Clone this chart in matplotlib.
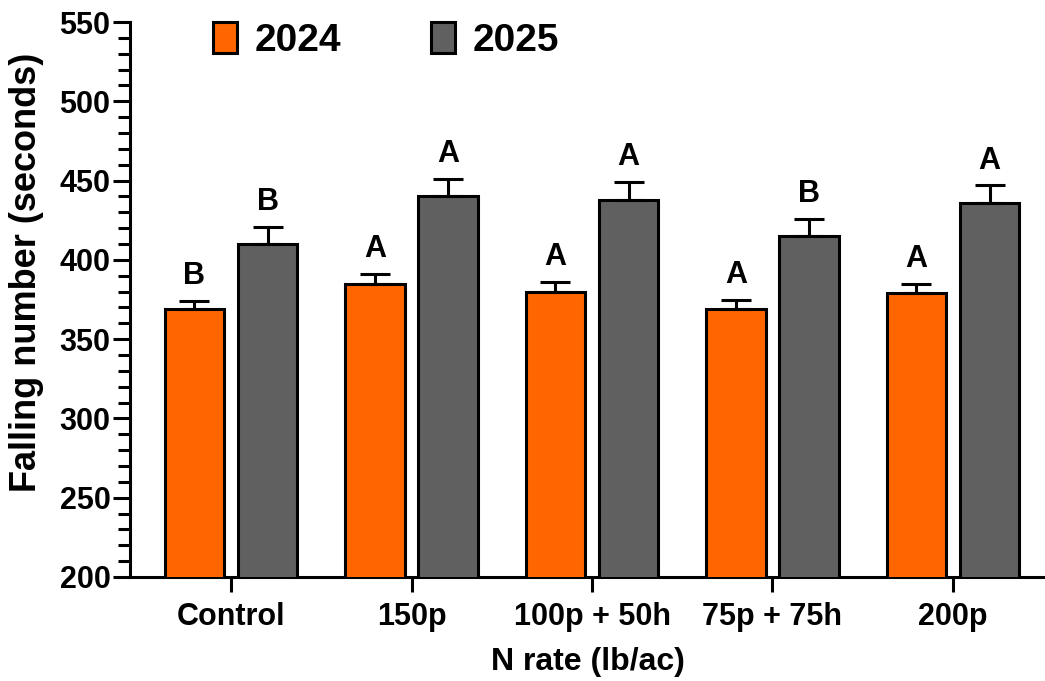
import matplotlib
matplotlib.use("Agg")
import matplotlib.pyplot as plt
from matplotlib.ticker import MultipleLocator
import numpy as np

plt.rcParams['font.family'] = ['Liberation Sans', 'DejaVu Sans']
plt.rcParams['font.weight'] = 'bold'

# data
treatments = ["Control", "150p", "100p + 50h", "75p + 75h", "200p"]
mean_2024 = [369, 385, 380, 369, 379]
err_2024 = [5, 6, 6, 6, 6]
mean_2025 = [410, 440, 438, 415, 436]
err_2025 = [11, 11, 11, 11, 11]
letters_2024 = ["B", "A", "A", "A", "A"]
letters_2025 = ["B", "A", "A", "B", "A"]

orange = "#FF6600"
gray = "#606060"

fig = plt.figure(figsize=(10.45, 6.81), dpi=100)
ax = fig.add_axes([130 / 1045, 1 - 577 / 681, 915 / 1045, 555 / 681])

x = np.arange(len(treatments))
w = 0.33
off = 0.203

ekw = dict(elinewidth=2.2, capthick=2.2, ecolor="black")
ax.bar(x - off, mean_2024, w, color=orange, edgecolor="black", linewidth=2.2,
       yerr=[np.zeros(len(x)), err_2024], capsize=11, error_kw=ekw, label="2024", zorder=3)
ax.bar(x + off, mean_2025, w, color=gray, edgecolor="black", linewidth=2.2,
       yerr=[np.zeros(len(x)), err_2025], capsize=11, error_kw=ekw, label="2025", zorder=3)

# significance letters above the error caps
for i in range(len(x)):
    ax.annotate(letters_2024[i], (x[i] - off, mean_2024[i] + err_2024[i]),
                xytext=(0, 12), textcoords="offset points", ha="center", va="baseline",
                fontsize=22, fontweight="bold")
    ax.annotate(letters_2025[i], (x[i] + off, mean_2025[i] + err_2025[i]),
                xytext=(0, 12), textcoords="offset points", ha="center", va="baseline",
                fontsize=22, fontweight="bold")

ax.set_ylim(200, 550)
ax.set_xlim(-0.56, 4.51)
ax.yaxis.set_major_locator(MultipleLocator(50))
ax.yaxis.set_minor_locator(MultipleLocator(10))
ax.set_xticks(x)
ax.set_xticklabels(treatments)

for s in ["top", "right"]:
    ax.spines[s].set_visible(False)
for s in ["left", "bottom"]:
    ax.spines[s].set_linewidth(2.2)

ax.tick_params(axis="y", which="major", length=12, width=2.2, labelsize=22, pad=2)
ax.tick_params(axis="y", which="minor", length=8.5, width=2.2)
ax.tick_params(axis="x", which="major", length=11, width=2.2, labelsize=22, pad=7)
for lab in ax.get_xticklabels() + ax.get_yticklabels():
    lab.set_fontweight("bold")

ax.set_ylabel("Falling number (seconds)", fontsize=26, fontweight="bold")
ax.yaxis.set_label_coords(-0.094, 0.548)
ax.set_xlabel("N rate (lb/ac)", fontsize=23, fontweight="bold", labelpad=11)

fig.legend(loc="center left", bbox_to_anchor=(213 / 1045, 1 - 40.5 / 681), ncol=2,
           frameon=False, borderpad=0, borderaxespad=0, handlelength=0.62, handleheight=0.85,
           handletextpad=0.45, columnspacing=2.3,
           prop={"size": 28, "weight": "bold"})

fig.savefig("out.png", dpi=100)
